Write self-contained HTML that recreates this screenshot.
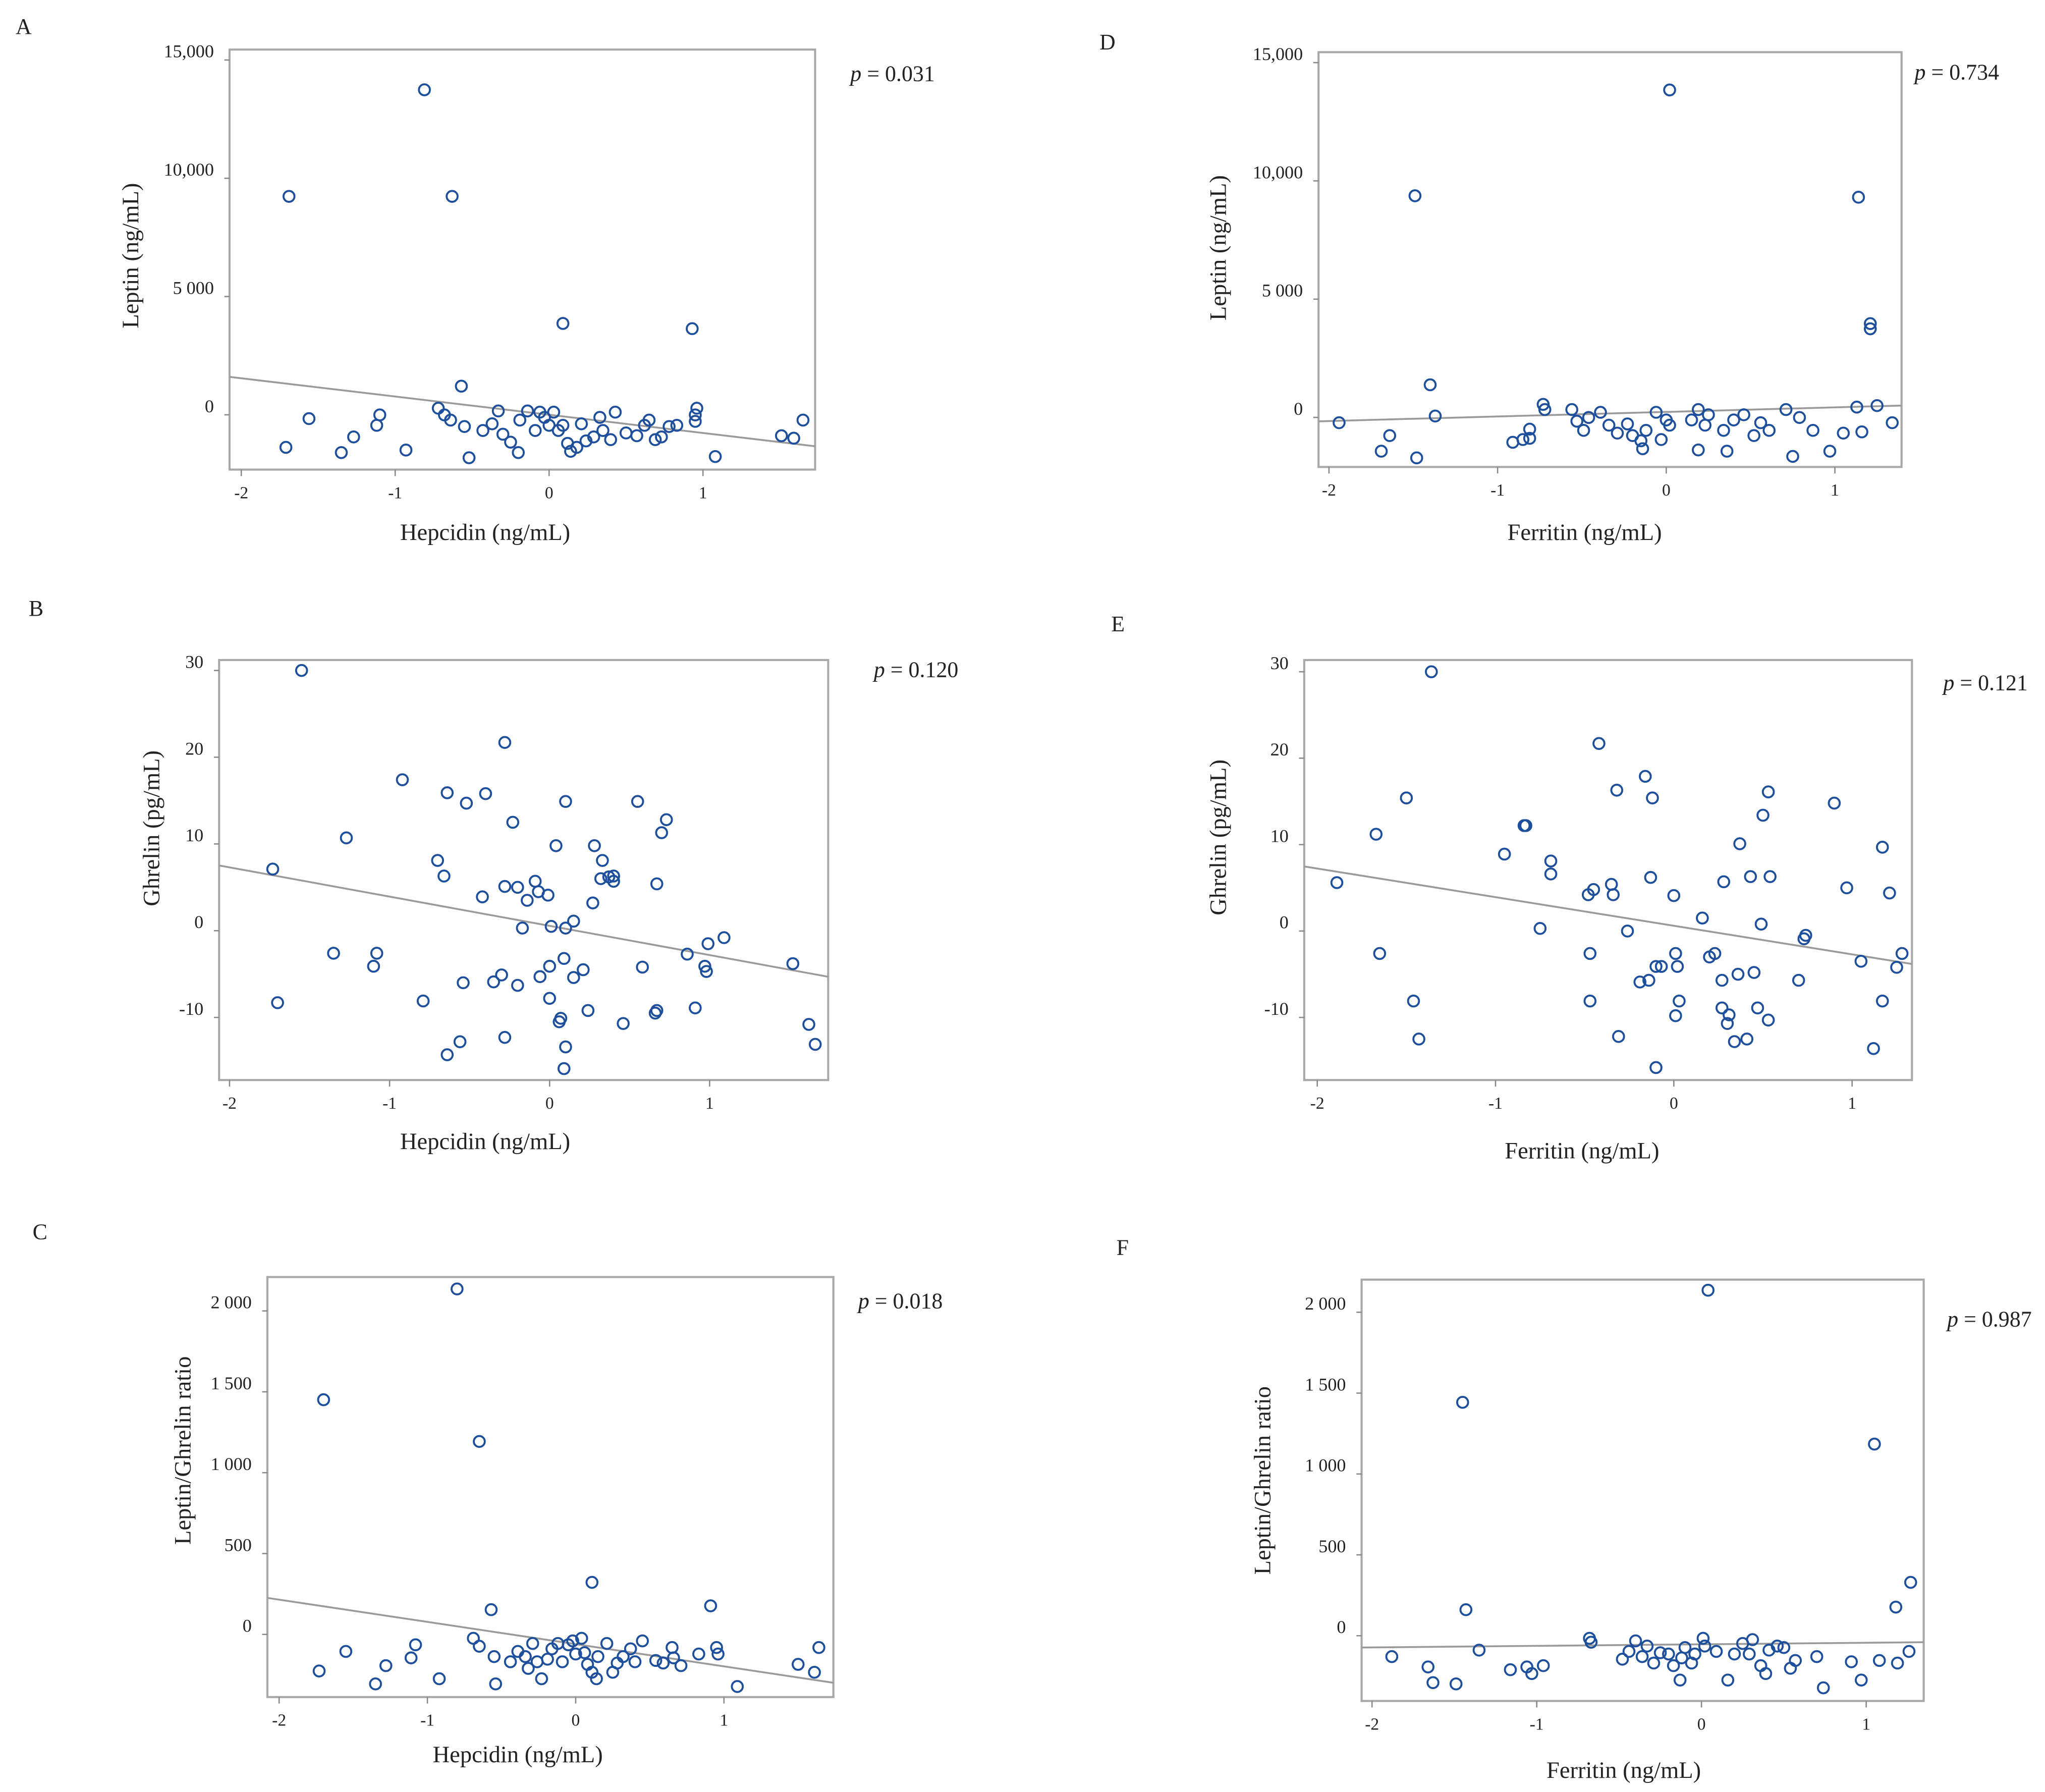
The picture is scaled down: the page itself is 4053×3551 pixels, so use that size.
<!DOCTYPE html>
<html><head><meta charset="utf-8">
<style>
html,body{margin:0;padding:0;background:#fff;}
svg{display:block;}
text{font-family:"Liberation Serif",serif;fill:#222;}
</style></head>
<body>
<svg id="fig" width="4053" height="3551" viewBox="0 0 1568 1373.8" xmlns="http://www.w3.org/2000/svg">
<rect width="1568" height="1374" fill="#fff"/>
</svg>
<script>
// Panel A: Hepcidin vs Leptin
const aX=[-1.69,-0.81,-0.63,0.09,0.93,-0.57,-1.56,-1.71,-1.27,-1.35,-1.10,-1.12,-0.93,-0.72,-0.68,-0.64,-0.55,-0.52,-0.43,-0.37,-0.33,-0.30,-0.25,-0.20,-0.19,-0.14,-0.09,-0.06,-0.03,0,0.03,0.06,0.09,0.12,0.14,0.18,0.21,0.24,0.29,0.33,0.35,0.40,0.43,0.50,0.57,0.62,0.65,0.69,0.73,0.78,0.83,0.95,0.96,0.95,1.08,1.51,1.59,1.65];
const aY=[9235,13740,9235,3862,3642,1211,-161,-1376,-936,-1596,-4,-444,-1491,279,-4,-224,-496,-1816,-664,-381,164,-821,-1156,-1596,-224,164,-664,112,-108,-444,112,-664,-444,-1208,-1544,-1376,-381,-1104,-936,-108,-664,-1051,112,-768,-884,-444,-224,-1051,-936,-496,-444,-4,279,-276,-1764,-884,-988,-224];
const aFit=[2,-771];
// Panel B: Hepcidin vs Ghrelin
const bX=[-1.55,-1.73,-1.70,-1.27,-1.35,-1.08,-1.10,-0.92,-0.79,-0.70,-0.66,-0.64,-0.64,-0.56,-0.52,-0.54,-0.42,-0.40,-0.35,-0.30,-0.28,-0.28,-0.28,-0.23,-0.20,-0.20,-0.17,-0.14,-0.09,-0.07,-0.06,-0.01,0.01,0,0,0.04,0.06,0.07,0.09,0.10,0.10,0.10,0.09,0.15,0.15,0.21,0.24,0.27,0.28,0.32,0.33,0.37,0.40,0.40,0.46,0.55,0.58,0.67,0.67,0.66,0.70,0.73,0.86,0.91,0.97,0.98,0.99,1.09,1.52,1.62,1.66];
const bY=[30,7.1,-8.3,10.7,-2.6,-2.6,-4.1,17.4,-8.1,8.1,6.3,15.9,-14.3,-12.8,14.7,-6.0,3.9,15.8,-5.9,-5.1,5.1,21.7,-12.3,12.5,5.0,-6.3,0.3,3.5,5.7,4.5,-5.3,4.1,0.5,-7.8,-4.1,9.8,-10.5,-10.1,-3.2,14.9,0.3,-13.4,-15.9,1.1,-5.4,-4.5,-9.2,3.2,9.8,6.0,8.1,6.2,5.7,6.3,-10.7,14.9,-4.2,5.4,-9.2,-9.5,11.3,12.8,-2.7,-8.9,-4.1,-4.7,-1.5,-0.8,-3.8,-10.8,-13.1];
const bFit=[0.56,-3.37];
// Panel C: Hepcidin vs Leptin/Ghrelin ratio
const cX=[-0.80,-1.70,-0.65,0.11,0.91,-0.57,-1.73,-1.55,-1.35,-1.28,-1.11,-1.08,-0.92,-0.69,-0.65,-0.55,-0.54,-0.44,-0.39,-0.34,-0.32,-0.29,-0.26,-0.23,-0.19,-0.16,-0.12,-0.09,-0.05,-0.02,0,0.04,0.06,0.08,0.11,0.14,0.15,0.21,0.25,0.28,0.32,0.37,0.40,0.45,0.54,0.59,0.65,0.66,0.71,0.83,0.95,0.96,1.09,1.50,1.61,1.64];
const cY=[2136,1451,1193,322,177,153,-226,-105,-306,-193,-145,-64,-274,-24,-73,-137,-306,-169,-105,-137,-210,-56,-169,-274,-153,-89,-56,-169,-64,-40,-121,-24,-113,-185,-234,-274,-137,-56,-234,-177,-137,-89,-169,-40,-161,-177,-81,-145,-193,-121,-81,-121,-322,-185,-234,-81];
const cFit=[-60,-137.5];
// Panel D: Ferritin vs Leptin
const dX=[0.02,-1.49,1.14,1.21,1.21,-1.40,-1.37,-1.94,-1.64,-1.69,-1.48,-0.91,-0.85,-0.81,-0.81,-0.72,-0.73,-0.56,-0.53,-0.49,-0.46,-0.39,-0.34,-0.29,-0.23,-0.20,-0.15,-0.14,-0.12,-0.06,-0.03,0,0.02,0.15,0.19,0.23,0.19,0.25,0.34,0.36,0.40,0.46,0.52,0.56,0.61,0.75,0.71,0.79,0.87,0.97,1.05,1.16,1.13,1.25,1.34];
const dY=[13844,9371,9309,3966,3746,1379,59,-224,-768,-1428,-1711,-1051,-936,-884,-496,332,551,332,-161,-548,-4,216,-328,-664,-276,-768,-988,-1324,-548,216,-936,-108,-328,-108,332,-328,-1376,112,-548,-1428,-108,112,-768,-224,-548,-1648,332,-4,-548,-1428,-664,-611,436,499,-224];
const dFit=[232,193];
// Panel E: Ferritin vs Ghrelin
const eX=[-1.36,-1.89,-1.67,-1.65,-1.50,-1.46,-1.43,-0.95,-0.84,-0.83,-0.75,-0.69,-0.69,-0.48,-0.45,-0.47,-0.47,-0.42,-0.35,-0.34,-0.32,-0.31,-0.26,-0.19,-0.16,-0.14,-0.13,-0.12,-0.10,-0.07,-0.10,0,0.01,0.02,0.01,0.03,0.16,0.20,0.23,0.27,0.27,0.28,0.30,0.31,0.34,0.36,0.37,0.41,0.43,0.45,0.47,0.49,0.50,0.53,0.53,0.54,0.70,0.73,0.74,0.90,0.97,1.05,1.12,1.17,1.17,1.21,1.25,1.28];
const eY=[30,5.6,11.2,-2.6,15.4,-8.1,-12.5,8.9,12.2,12.2,0.3,8.1,6.6,4.2,4.8,-2.6,-8.1,21.7,5.4,4.2,16.3,-12.2,0,-5.9,17.9,-5.7,6.2,15.4,-4.1,-4.1,-15.8,4.1,-2.6,-4.1,-9.8,-8.1,1.5,-3.0,-2.6,-5.7,-8.9,5.7,-10.7,-9.7,-12.8,-5.0,10.1,-12.5,6.3,-4.8,-8.9,0.8,13.4,16.1,-10.3,6.3,-5.7,-0.9,-0.5,14.8,5.0,-3.5,-13.6,9.7,-8.1,4.4,-4.2,-2.6];
const eFit=[0.61,-3.31];
// Panel F: Ferritin vs Leptin/Ghrelin ratio
const fX=[0.04,-1.45,1.05,1.27,1.18,-1.43,-1.88,-1.66,-1.63,-1.49,-1.35,-1.16,-1.06,-1.03,-0.96,-0.68,-0.67,-0.48,-0.44,-0.40,-0.36,-0.33,-0.29,-0.25,-0.20,-0.17,-0.13,-0.12,-0.10,-0.06,-0.04,0.01,0.02,0.09,0.16,0.20,0.25,0.29,0.31,0.36,0.39,0.41,0.46,0.50,0.54,0.57,0.70,0.74,0.91,0.97,1.08,1.19,1.26];
const fY=[2136,1443,1185,330,177,161,-129,-193,-290,-298,-89,-210,-193,-234,-185,-16,-40,-145,-97,-32,-129,-64,-169,-105,-113,-185,-274,-137,-73,-169,-113,-16,-64,-97,-274,-113,-48,-113,-24,-185,-234,-89,-64,-73,-201,-153,-129,-322,-161,-274,-153,-169,-97];
const fFit=[-53,9.6];

const xTicks=[-2,-1,0,1];
const xTickLabels=["-2","-1","0","1"];
const leptinTicks=[0,5000,10000,15000];
const leptinTickLabels=["0","5 000","10,000","15,000"];
const ghrelinTicks=[-10,0,10,20,30];
const ghrelinTickLabels=["-10","0","10","20","30"];
const ratioTicks=[0,500,1000,1500,2000];
const ratioTickLabels=["0","500","1 000","1 500","2 000"];

const NS="http://www.w3.org/2000/svg";
const svg=document.getElementById('fig');
function mk(tag,attrs,parent){const e=document.createElementNS(NS,tag);for(const k in attrs)e.setAttribute(k,attrs[k]);(parent||svg).appendChild(e);return e;}

const panels=[
 {id:'a',letter:'A',lx:12,ly:26,box:[176,38,625,360],xs:[185,303],ys:[0,318,15000,46],xv:aX,yv:aY,fit:aFit,yt:leptinTicks,ytl:leptinTickLabels,xt:"Hepcidin (ng/mL)",xtp:[372,414],yt2:"Leptin (ng/mL)",ytp:[106,196],p:"0.031",pp:[652,62]},
 {id:'b',letter:'B',lx:22,ly:472,box:[168,506,635,828],xs:[176,298.7],ys:[30,514,-10,780],xv:bX,yv:bY,fit:bFit,yt:ghrelinTicks,ytl:ghrelinTickLabels,xt:"Hepcidin (ng/mL)",xtp:[372,881],yt2:"Ghrelin (pg/mL)",ytp:[122,635],p:"0.120",pp:[670,519]},
 {id:'c',letter:'C',lx:25,ly:950,box:[205,979,639,1301],xs:[214,327.7],ys:[0,1253,2000,1005],xv:cX,yv:cY,fit:cFit,yt:ratioTicks,ytl:ratioTickLabels,xt:"Hepcidin (ng/mL)",xtp:[397,1351],yt2:"Leptin/Ghrelin ratio",ytp:[146,1112],p:"0.018",pp:[658,1003]},
 {id:'d',letter:'D',lx:843,ly:38,box:[1011,40,1458,358],xs:[1019,1148.3],ys:[0,320,15000,48],xv:dX,yv:dY,fit:dFit,yt:leptinTicks,ytl:leptinTickLabels,xt:"Ferritin (ng/mL)",xtp:[1215,414],yt2:"Leptin (ng/mL)",ytp:[940,190],p:"0.734",pp:[1468,61]},
 {id:'e',letter:'E',lx:852,ly:484,box:[1000,506,1466,828],xs:[1010,1146.7],ys:[30,515,-10,780],xv:eX,yv:eY,fit:eFit,yt:ghrelinTicks,ytl:ghrelinTickLabels,xt:"Ferritin (ng/mL)",xtp:[1213,888],yt2:"Ghrelin (pg/mL)",ytp:[940,642],p:"0.121",pp:[1490,529]},
 {id:'f',letter:'F',lx:856,ly:962,box:[1044,981,1475,1304],xs:[1052,1178.3],ys:[0,1254,2000,1006],xv:fX,yv:fY,fit:fFit,yt:ratioTicks,ytl:ratioTickLabels,xt:"Ferritin (ng/mL)",xtp:[1245,1363],yt2:"Leptin/Ghrelin ratio",ytp:[974,1135],p:"0.987",pp:[1493,1017]}
];

panels.forEach(P=>{
  const g=mk('g',{});
  
  
  const [x0,y0,x1,y1]=P.box;
  const sx=v=>P.xs[0]+(v+2)*(P.xs[1]-P.xs[0]);
  const sy=v=>P.ys[1]+(v-P.ys[0])*(P.ys[3]-P.ys[1])/(P.ys[2]-P.ys[0]);
  const lt=mk('text',{x:P.lx,y:P.ly,'font-size':17},g);lt.textContent=P.letter;
  
  
  const box=mk('rect',{x:x0,y:y0,width:x1-x0,height:y1-y0,fill:'none',stroke:'#a8a8a8','stroke-width':1.6},g);
  
  
  xTicks.forEach((t,i)=>{
    const x=sx(t);
    mk('line',{x1:x,x2:x,y1:y1,y2:y1+5,stroke:'#888','stroke-width':1},g);
    const tx=mk('text',{x:x,y:y1+22,'font-size':13,'text-anchor':'middle'},g);tx.textContent=xTickLabels[i];
    
    
  });
  P.yt.forEach((t,i)=>{
    const y=sy(t);
    mk('line',{x1:x0-4,x2:x0,y1:y,y2:y,stroke:'#888','stroke-width':1},g);
    const ty=mk('text',{x:x0-12,y:y-2,'font-size':14,'text-anchor':'end'},g);ty.textContent=P.ytl[i];
    
    
  });
  const xt=mk('text',{x:P.xtp[0],y:P.xtp[1],'font-size':18,'text-anchor':'middle'},g);xt.textContent=P.xt;
  
  
  const yt=mk('text',{x:0,y:0,'font-size':18,'text-anchor':'middle',transform:`translate(${P.ytp[0]},${P.ytp[1]}) rotate(-90)`},g);yt.textContent=P.yt2;
  
  
  const pv=mk('text',{x:P.pp[0],y:P.pp[1],'font-size':17},g);
  pv.innerHTML='<tspan font-style="italic">p</tspan> = '+P.p;
  
  
  const xa=-2.07*(P.xs[1]-P.xs[0])/(P.xs[1]-P.xs[0]);
  const xl=(x0-P.xs[0])/(P.xs[1]-P.xs[0])-2, xr=(x1-P.xs[0])/(P.xs[1]-P.xs[0])-2;
  const fl=mk('line',{x1:sx(xl),y1:sy(P.fit[0]+P.fit[1]*xl),x2:sx(xr),y2:sy(P.fit[0]+P.fit[1]*xr),stroke:'#9a9a9a','stroke-width':1.4},g);
  
  
  P.xv.forEach((v,i)=>{
    const c=mk('circle',{cx:sx(v),cy:sy(P.yv[i]),r:4.2,fill:'none',stroke:'#1d4f9c','stroke-width':1.5},g);
    
    
  });
});
</script>
</body></html>
